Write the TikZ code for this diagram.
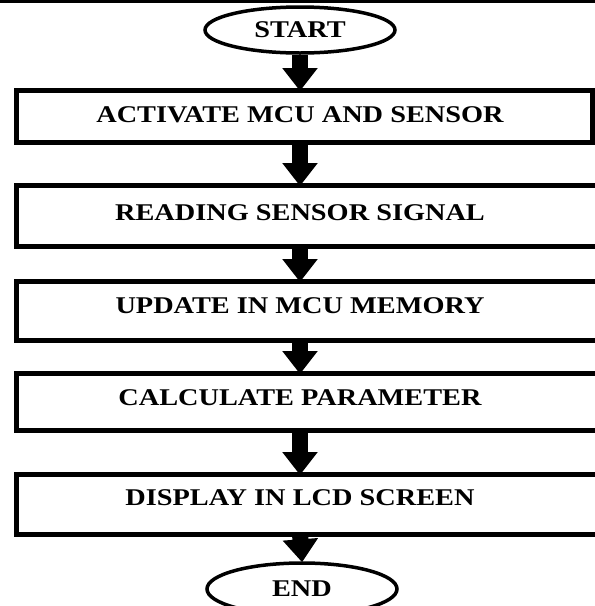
\documentclass[tikz,border=0pt]{standalone}
\usepackage{fontspec}
\setmainfont{Liberation Serif}
\usetikzlibrary{shapes.geometric,arrows.meta}
\tikzset{
  x=1pt,y=-1pt,
  stepbox/.style={draw,line width=5pt,rectangle,inner sep=0pt,outer sep=0pt},
  termnode/.style={draw,line width=3.5pt,ellipse,inner sep=0pt,minimum width=190pt,minimum height=46pt,
    font=\bfseries\fontsize{24}{24}\selectfont},
  steptext/.style={inner sep=0pt,font=\bfseries\fontsize{24}{24}\selectfont},
  flow/.style={line width=16pt,-{Triangle[width=34pt,length=23pt]},shorten >=-1pt}
}
\newcommand{\wtext}[1]{\scalebox{1.18}[1]{#1}}
\begin{document}
\begin{tikzpicture}
\useasboundingbox (0,0) rectangle (595,606);
\clip (0,0) rectangle (595,606);
\fill[black] (0,0) rectangle (595,3);
% terminals
\node[termnode] (s) at (300,30) {\wtext{START}};
\node[termnode,minimum height=52pt] (e) at (302,589) {\wtext{END}};
% boxes
\node[stepbox,minimum width=575.5pt,minimum height=52pt] (b1) at (304.25,116) {};
\node[stepbox,minimum width=603.5pt,minimum height=61pt] (b2) at (318.25,215.5) {};
\node[stepbox,minimum width=603.5pt,minimum height=59pt] (b3) at (318.25,310.5) {};
\node[stepbox,minimum width=603.5pt,minimum height=57pt] (b4) at (318.25,401.5) {};
\node[stepbox,minimum width=603.5pt,minimum height=60pt] (b5) at (318.25,504) {};
% texts
\node[steptext] (t1) at (300,115) {\wtext{ACTIVATE MCU AND SENSOR}};
\node[steptext] (t2) at (300,213) {\wtext{READING SENSOR SIGNAL}};
\node[steptext] (t3) at (300,306) {\wtext{UPDATE IN MCU MEMORY}};
\node[steptext] (t4) at (300,398) {\wtext{CALCULATE PARAMETER}};
\node[steptext] (t5) at (300,498) {\wtext{DISPLAY IN LCD SCREEN}};
% arrows
\draw[flow] (s.south) -- (t1 |- b1.north);
\draw[flow] (t1 |- b1.south) -- (t2 |- b2.north);
\draw[flow] (t2 |- b2.south) -- (t3 |- b3.north);
\draw[flow] (t3 |- b3.south) -- (t4 |- b4.north);
\draw[flow] (t4 |- b4.south) -- (t5 |- b5.north);
\draw[flow] (t5 |- b5.south) -- (e.north);
\end{tikzpicture}
\end{document}
